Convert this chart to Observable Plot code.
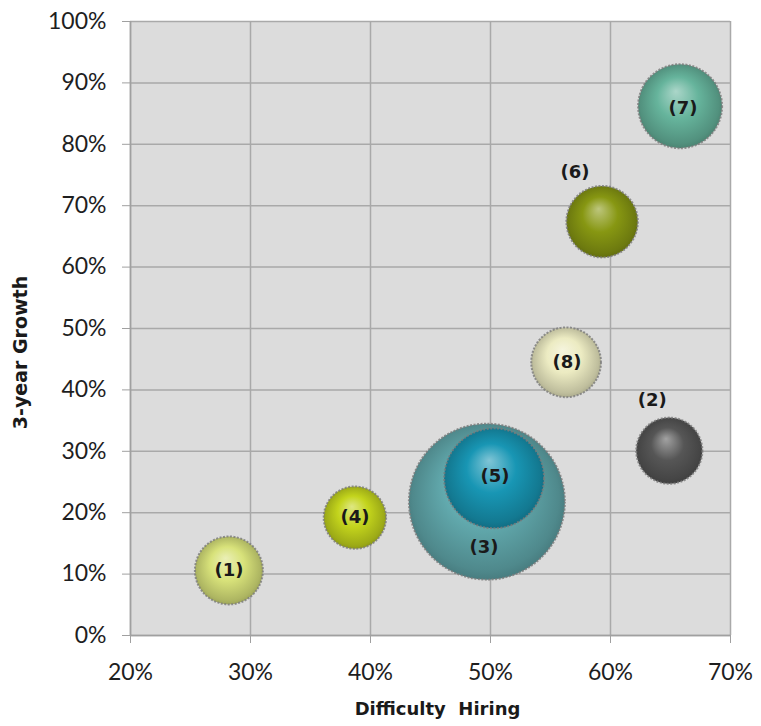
<!DOCTYPE html>
<html><head><meta charset="utf-8">
<script src="https://cdn.jsdelivr.net/npm/d3@7"></script>
<script src="https://cdn.jsdelivr.net/npm/@observablehq/plot@0.6"></script>
<style>body{margin:0;background:#fff;font-family:Lato,sans-serif;}</style>
</head><body><div id="chart"></div>
<script>
const labels = ["(1)", "(2)", "(3)", "(4)", "(5)", "(6)", "(7)", "(8)"];
const difficultyHiring = [28.2, 64.9, 49.7, 38.7, 50.3, 59.3, 65.8, 56.3];
const growth3yr = [10.6, 30.1, 21.8, 19.2, 25.6, 67.4, 86.2, 44.5];
const bubbleSize = [19, 18, 100, 16, 41, 21, 29, 20];
const xTicks = [20, 30, 40, 50, 60, 70];
const yTicks = [0, 10, 20, 30, 40, 50, 60, 70, 80, 90, 100];

// styles (kept separate from data)
const baseColors = ["#d8e27a", "#565656", "#62aaae", "#c3d41c", "#1896b4", "#879712", "#66b49c", "#ecebc2"];
const labelOffsets = [[0, 0], [-17, -50], [-3, 46], [0, 0], [1, -2], [-27, -49], [3, 2], [1, 0]];

const data = labels.map((label, i) => ({
  i, label, x: difficultyHiring[i], y: growth3yr[i], size: bubbleSize[i]
}));

const W = 761, H = 726;
const tickFont = 23;
const boldFont = "'DejaVu Sans', sans-serif";

const textMarks = data.map(d => Plot.text([d], {
  x: "x", y: "y", text: "label",
  dx: labelOffsets[d.i][0], dy: labelOffsets[d.i][1],
  fontSize: 18, fontWeight: "bold", fill: "#1a1a1a", fontFamily: boldFont
}));

const svg = Plot.plot({
  width: W, height: H,
  marginLeft: 130, marginRight: 31, marginTop: 21, marginBottom: 91,
  style: {fontFamily: "Lato, 'Open Sans', sans-serif", background: "#fff"},
  x: {domain: [20, 70]},
  y: {domain: [0, 100]},
  r: {type: "sqrt", domain: [0, 100], range: [0, 78]},
  color: {type: "identity"},
  marks: [
    Plot.frame({fill: "#dcdcdc", stroke: null}),
    Plot.gridX(xTicks, {stroke: "#a9a9a9", strokeOpacity: 1, strokeWidth: 1.5}),
    Plot.gridY(yTicks, {stroke: "#a9a9a9", strokeOpacity: 1, strokeWidth: 1.5}),
    Plot.ruleX([20], {stroke: "#a0a0a0", strokeWidth: 1.5}),
    Plot.ruleY([0], {stroke: "#a0a0a0", strokeWidth: 1.5}),
    Plot.axisX({ticks: xTicks, tickFormat: d => d + "%", tickSize: 8, tickPadding: 20,
      fontSize: tickFont, stroke: "#a0a0a0", fill: "#1e1e1e", label: null}),
    Plot.axisY({ticks: yTicks, tickFormat: d => d + "%", tickSize: 8, tickPadding: 16,
      fontSize: tickFont, stroke: "#a0a0a0", fill: "#1e1e1e", label: null}),
    Plot.dot(data, {
      x: "x", y: "y", r: "size",
      fill: d => `url(#bub${d.i})`,
      stroke: "#7a7a7a", strokeWidth: 2, strokeDasharray: "2 1.5", strokeOpacity: 0.8
    }),
    ...textMarks,
    Plot.text(["Difficulty  Hiring"], {frameAnchor: "bottom", dx: 7, dy: 79, text: d => d,
      fontSize: 18, fontWeight: "bold", fill: "#1a1a1a", fontFamily: boldFont}),
    Plot.text(["3-year Growth"], {frameAnchor: "left", textAnchor: "middle", dx: -110, dy: 24,
      rotate: -90, text: d => d,
      fontSize: 19, fontWeight: "bold", fill: "#1a1a1a", fontFamily: boldFont})
  ]
});

// radial gradients for 3D bubble look
const defs = d3.select(svg).insert("defs", ":first-child");
baseColors.forEach((c, i) => {
  const base = d3.color(c);
  const g = defs.append("radialGradient")
    .attr("id", `bub${i}`)
    .attr("cx", "50%").attr("cy", "50%").attr("r", "55%")
    .attr("fx", "45%").attr("fy", "32%");
  g.append("stop").attr("offset", "0%").attr("stop-color", d3.interpolateRgb(c, "#ffffff")(0.45));
  g.append("stop").attr("offset", "45%").attr("stop-color", c);
  g.append("stop").attr("offset", "85%").attr("stop-color", base.darker(0.6));
  g.append("stop").attr("offset", "100%").attr("stop-color", base.darker(1.1));
});

document.getElementById("chart").appendChild(svg);
</script>
</body></html>
